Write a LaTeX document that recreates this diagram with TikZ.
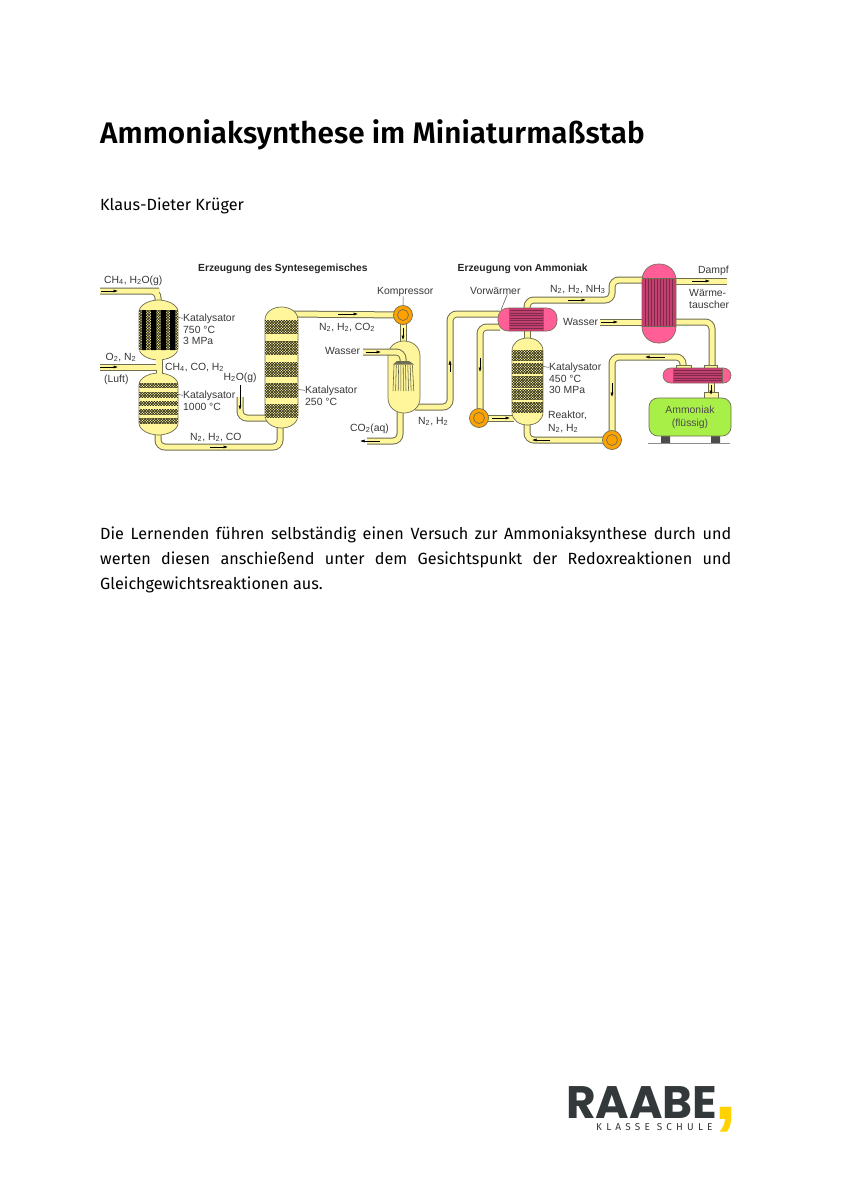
\documentclass[tikz,border=0pt]{standalone}
\usepackage{fontspec}
\setmainfont{Fira Sans}
\newfontfamily\titlef{Fira Sans SemiBold}
\newfontfamily\lab{Liberation Sans}
\newfontfamily\logof{Poppins}
\usetikzlibrary{patterns,arrows.meta}
\definecolor{pipeY}{HTML}{FFF59A}
\definecolor{pipeO}{HTML}{6E6E50}
\definecolor{pinkA}{HTML}{FF5F96}
\definecolor{pinkB}{HTML}{C2406F}
\definecolor{orangeP}{HTML}{FFA200}
\definecolor{tankG}{HTML}{A8F048}
\definecolor{logoD}{HTML}{33383A}
\definecolor{logoY}{HTML}{FFD200}
\pgfdeclarepatternformonly{catcheck}{\pgfqpoint{-.5pt}{-.5pt}}{\pgfqpoint{3.2pt}{3.2pt}}{\pgfqpoint{2.7pt}{2.7pt}}{%
 \pgfpathcircle{\pgfqpoint{.65pt}{.65pt}}{.72pt}%
 \pgfpathcircle{\pgfqpoint{2pt}{2pt}}{.72pt}%
 \pgfusepath{fill}}
\tikzset{
 pipeouter/.style={draw=pipeO,line width=7pt,rounded corners=7pt},
 pipeinner/.style={draw=pipeY,line width=5pt,rounded corners=7pt},
 vesselshape/.style={draw=pipeO,fill=pipeY,line width=.7pt},
 pinkshape/.style={draw=pipeO,fill=pinkA,line width=.6pt},
 catalyst/.style={fill=black!85!pipeY},
 catdots/.style={pattern=catcheck,pattern color=pipeY},
 flow/.style={draw=black,line width=.5pt,-{Latex[length=4.5pt,width=3pt]}},
 pumpshape/.style={circle,draw=pipeO,fill=orangeP,line width=.7pt,minimum size=19pt,inner sep=0pt},
 pumpring/.style={circle,draw=pipeO,line width=.7pt,minimum size=11pt,inner sep=0pt},
 leader/.style={draw=black!70,line width=.5pt},
 lbl/.style={font=\lab\fontsize{10.4}{12}\selectfont,text=black!78,inner sep=0pt,align=left},
 headlbl/.style={font=\lab\bfseries\fontsize{10.3}{12}\selectfont,text=black!85,inner sep=0pt},
 flange/.style={draw=pipeO,fill=pipeY,line width=.5pt},
 tubeline/.style={draw=black!35!pinkB,line width=.5pt},
}
\newcommand{\pipe}[1]{\path[pipeouter] #1;\path[pipeinner] #1;}
% x1 x2 ytop ybot capheight
\newcommand{\vesselpath}[5]{(#1,#3+#5) .. controls (#1,#3+#5*0.35) and (#1+#2*0.5-#1*0.5-8,#3) .. (#1*0.5+#2*0.5,#3) .. controls (#1*0.5+#2*0.5+8,#3) and (#2,#3+#5*0.35) .. (#2,#3+#5) -- (#2,#4-#5) .. controls (#2,#4-#5*0.35) and (#1*0.5+#2*0.5+8,#4) .. (#1*0.5+#2*0.5,#4) .. controls (#1*0.5+#2*0.5-8,#4) and (#1,#4-#5*0.35) .. (#1,#4-#5) -- cycle}
\newcommand{\catbed}[4]{\fill[catalyst] (#1,#3) rectangle (#2,#4);\fill[catdots] (#1,#3) rectangle (#2,#4);}
\begin{document}
\begin{tikzpicture}[x=1pt,y=-1pt]
\useasboundingbox (0,0) rectangle (846,1200);
\fill[white] (0,0) rectangle (846,1200);
% page text
\node[anchor=base west,inner sep=0pt,font=\titlef\fontsize{29.7}{36}\selectfont] (title) at (100,143) {Ammoniaksynthese im Miniaturmaßstab};
\node[anchor=base west,inner sep=0pt,font=\fontsize{16.2}{20}\selectfont] (author) at (100,210) {Klaus-Dieter Krüger};
\node[anchor=north west,inner sep=0pt,text width=631pt,align=justify,font=\fontsize{16.2}{25}\selectfont] (body) at (100,527) {Die Lernenden führen selbständig einen Versuch zur Ammoniaksynthese durch und werten diesen anschießend unter dem Gesichtspunkt der Redoxreaktionen und \mbox{Gleichgewichtsreaktionen} aus.};
% key positions
\coordinate (compC) at (403,315);
\coordinate (pumpAC) at (479,418);
\coordinate (pumpBC) at (612,440);
% pipes
\pipe{(100,291) -- (152,291) -- (158,291) -- (158,303)}
\pipe{(100,367) -- (160,367)}
\pipe{(159.5,358) -- (159.5,376)}
\pipe{(158,432) -- (158,447) -- (280,447) -- (280,425)}
\pipe{(240,397) -- (240,418) -- (268,418)}
\pipe{(290,314) -- (compC)}
\pipe{(compC) -- (403,344)}
\pipe{(400,410) -- (400,441) -- (367,441)}
\pipe{(415,407) -- (450,407) -- (450,314) -- (500,314)}
\pipe{(500,327) -- (480,327) -- (480,412)}
\pipe{(pumpAC) -- (514,418)}
\pipe{(527,329) -- (527,340)}
\pipe{(527,422) -- (527,440) -- (pumpBC)}
\pipe{(527,310) -- (527,300) -- (612,300) -- (612,280) -- (645,280)}
\pipe{(674,281) -- (727,281)}
\pipe{(600,322) -- (645,322)}
\pipe{(674,322) -- (712,322) -- (712,369)}
\pipe{(pumpBC) -- (612,357) -- (683,357) -- (683,367)}
\pipe{(711,381) -- (711,400)}
% vessels
\draw[vesselshape] \vesselpath{139}{178}{300}{360}{12};
\draw[vesselshape] \vesselpath{139}{178}{373}{435}{12};
\draw[vesselshape] \vesselpath{265}{298}{307}{428}{13};
\draw[vesselshape] \vesselpath{388}{420}{341}{413}{15};
\draw[vesselshape] \vesselpath{512}{543}{338}{425}{13};
% hide joints
\fill[pipeY] (156.8,355) rectangle (162.2,378);
\fill[pipeY] (156,358) rectangle (157,370);
% catalysts
\catbed{139}{178}{310}{350}
\fill[black] (142,310) rectangle (146,350) (151,310) rectangle (156,350) (161,310) rectangle (166,350) (170,310) rectangle (175,350);
\foreach \a/\b in {383/388,392/398,401/406,409/415,418/424}{\catbed{139}{178}{\a}{\b}}
\foreach \a/\b in {320/334,341/355,362/377,383/398,404/418}{\catbed{265}{298}{\a}{\b}}
\foreach \a/\b in {350/361,363/374,376/388,389/400,402/413}{\catbed{512}{543}{\a}{\b}}
% water pipe and shower
\pipe{(363,352) -- (403,352) -- (403,362)}
\fill[pipeO] (393,364.5) -- (397,361) -- (409,361) -- (414,364.5) -- cycle;
\foreach \t/\b in {394/393,396.3/395.6,398.6/398.2,400.9/400.8,403.2/403.4,405.5/406,407.8/408.6,410.1/411.2,412.4/413.8}{\draw[draw=pipeO!85!black,line width=.55pt] (\t,365) -- (\b,391);}
% preheater
\draw[pinkshape,rounded corners=10pt] (498,308) rectangle (557,331);
\fill[pinkB] (509,308) rectangle (543,331);
\foreach \y in {310.5,313,315.5,318,320.5,323,325.5,328}{\draw[tubeline] (509,\y) -- (543,\y);}
\draw[pipeO,line width=.6pt] (509,308) -- (509,331) (543,308) -- (543,331);
% big heat exchanger
\draw[pinkshape,rounded corners=16pt] (642,264) rectangle (676,343);
\fill[pinkB] (642,278) rectangle (676,326);
\foreach \x in {645,648,651,654,657,660,663,666,669,672}{\draw[tubeline] (\x,278) -- (\x,326);}
\draw[pipeO,line width=.6pt] (642,278) -- (676,278) (642,326) -- (676,326);
% small condenser
\draw[flange] (676,365) rectangle (691,368);
\draw[flange] (704,365) rectangle (717,368);
\draw[pinkshape,rounded corners=7.5pt] (663,368) rectangle (731,383);
\fill[pinkB] (673,368) rectangle (722,383);
\foreach \y in {370.5,373,375.5,378,380.5}{\draw[tubeline] (673,\y) -- (722,\y);}
\draw[pipeO,line width=.6pt] (673,368) -- (673,383) (722,368) -- (722,383);
\draw[flange] (704,392) rectangle (718,398);
% tank
\fill[black!70] (661,434) rectangle (670,443) (711,434) rectangle (720,443);
\draw[black!45,line width=.8pt] (648,443.2) -- (730,443.2);
\draw[draw=pipeO,fill=tankG,line width=.7pt,rounded corners=9pt] (649,398) rectangle (731,436);
% pumps
\node[pumpshape] (comp) at (compC) {};
\node[pumpring] at (comp) {};
\node[pumpshape] (pumpA) at (pumpAC) {};
\node[pumpring] at (pumpA) {};
\node[pumpshape] (pumpB) at (pumpBC) {};
\node[pumpring] at (pumpB) {};
% flow arrows
\draw[flow] (101,291) -- (118,291);
\draw[flow] (100,367) -- (118,367);
\draw[flow] (210,447) -- (228,447);
\draw[flow] (240,385) -- (240,410);
\draw[flow] (338,314) -- (358,314);
\draw[flow] (403,328) -- (403,340);
\draw[flow] (366,352) -- (381,352);
\draw[flow] (380,441) -- (360,441);
\draw[flow] (450,372) -- (450,360);
\draw[flow] (480,358) -- (480,372);
\draw[flow] (492,418) -- (510,418);
\draw[flow] (550,440) -- (532,440);
\draw[flow] (568,300) -- (586,300);
\draw[flow] (601,322) -- (618,322);
\draw[flow] (692,281) -- (710,281);
\draw[flow] (665,357) -- (645,357);
\draw[flow] (612,383) -- (612,397);
\draw[flow] (711,385) -- (711,395);
% headings
\node[headlbl,anchor=base west] (h1) at (198,271) {Erzeugung des Syntesegemisches};
\node[headlbl,anchor=base west] (h2) at (457.5,271) {Erzeugung von Ammoniak};
% labels
\node[lbl,anchor=base west] (l1) at (104,283) {CH\textsubscript{4}, H\textsubscript{2}O(g)};
\node[lbl,anchor=base west] (l2) at (105.5,360) {O\textsubscript{2}, N\textsubscript{2}};
\node[lbl,anchor=base west] (l3) at (104,382) {(Luft)};
\node[lbl,anchor=base west] (l4) at (165,370) {CH\textsubscript{4}, CO, H\textsubscript{2}};
\node[lbl,anchor=base west] (l5) at (223.5,380) {H\textsubscript{2}O(g)};
\node[lbl,anchor=base west] (l6) at (190,440) {N\textsubscript{2}, H\textsubscript{2}, CO};
\node[lbl,anchor=base west] (k1) at (183,321) {Katalysator};
\node[lbl,anchor=base west] (k1b) at (183,333) {750 °C};
\node[lbl,anchor=base west] (k1c) at (183,344) {3 MPa};
\node[lbl,anchor=base west] (k2) at (183,398) {Katalysator};
\node[lbl,anchor=base west] (k2b) at (183,410) {1000 °C};
\node[lbl,anchor=base west] (k3) at (305,393) {Katalysator};
\node[lbl,anchor=base west] (k3b) at (305,405) {250 °C};
\node[lbl,anchor=base west] (l7) at (319,330) {N\textsubscript{2}, H\textsubscript{2}, CO\textsubscript{2}};
\node[lbl,anchor=base west] (l8) at (377,294) {Kompressor};
\node[lbl,anchor=base west] (l9) at (325,354) {Wasser};
\node[lbl,anchor=base west] (l10) at (350,431) {CO\textsubscript{2}(aq)};
\node[lbl,anchor=base west] (l11) at (418,424) {N\textsubscript{2}, H\textsubscript{2}};
\node[lbl,anchor=base west] (l12) at (470,294) {Vorwärmer};
\node[lbl,anchor=base west] (l13) at (550,292) {N\textsubscript{2}, H\textsubscript{2}, NH\textsubscript{3}};
\node[lbl,anchor=base west] (l14) at (563,325) {Wasser};
\node[lbl,anchor=base west] (k4) at (549,370) {Katalysator};
\node[lbl,anchor=base west] (k4b) at (549,382) {450 °C};
\node[lbl,anchor=base west] (k4c) at (549,393) {30 MPa};
\node[lbl,anchor=base west] (l15) at (548,418) {Reaktor,};
\node[lbl,anchor=base west] (l16) at (548,431) {N\textsubscript{2}, H\textsubscript{2}};
\node[lbl,anchor=base west] (l17) at (698,273) {Dampf};
\node[lbl,anchor=base west] (l18) at (689,296) {Wärme-};
\node[lbl,anchor=base west] (l19) at (689,308) {tauscher};
\node[lbl,anchor=center,align=center,text=black!70] (l20) at (690,417) {Ammoniak\\[1pt](flüssig)};
% leaders
\coordinate (e1) at (178,317.5);\coordinate (e2) at (178,394.5);\coordinate (e3) at (298,389.5);\coordinate (e4) at (543,366.5);
\coordinate (e5) at (403,305);\coordinate (e6) at (501,310);
\draw[leader] (k1.west) -- (e1);
\draw[leader] (k2.west) -- (e2);
\draw[leader] (k3.west) -- (e3);
\draw[leader] (k4.west) -- (e4);
\draw[leader] (l8.south) ++(-2,0) -- (e5);
\draw[leader] (l12.south) ++(12,0) -- (e6);
% logo
\node[anchor=base west,inner sep=0pt,text=logoD,font=\logof\fontseries{sb}\fontsize{45.5}{50}\selectfont] (logo) at (566,1118) {RAABE};
\node[anchor=base west,inner sep=0pt,text=logoY,font=\lab\bfseries\fontsize{82}{82}\selectfont] (logoc) at (714,1119) {,};
\node[anchor=base west,inner sep=0pt,text=logoD,font=\fontsize{10}{12}\selectfont\addfontfeature{LetterSpace=42}] (logos) at (596,1130) {KLASSE SCHULE};
\end{tikzpicture}
\end{document}
